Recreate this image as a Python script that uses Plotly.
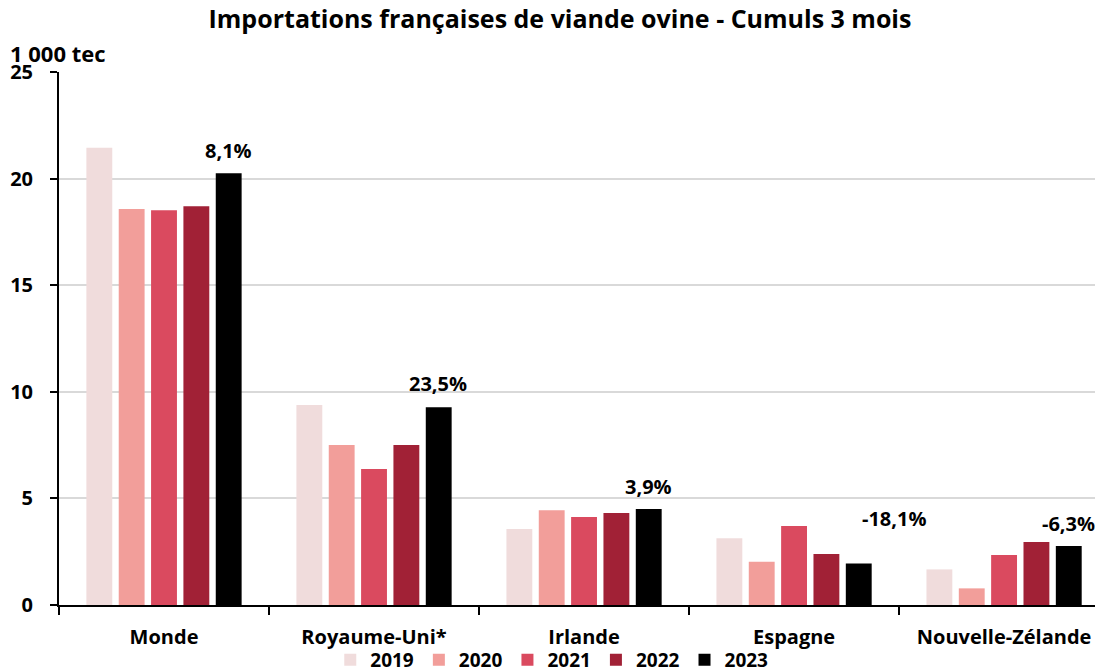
import plotly.graph_objects as go

# data (1 000 tec)
pays = ["Monde", "Royaume-Uni*", "Irlande", "Espagne", "Nouvelle-Zélande"]
annees = ["2019", "2020", "2021", "2022", "2023"]
v2019 = [21.45, 9.38, 3.56, 3.13, 1.67]
v2020 = [18.57, 7.50, 4.45, 2.03, 0.78]
v2021 = [18.52, 6.38, 4.13, 3.70, 2.34]
v2022 = [18.70, 7.50, 4.31, 2.39, 2.95]
v2023 = [20.25, 9.28, 4.50, 1.95, 2.77]
evol = ["8,1%", "23,5%", "3,9%", "-18,1%", "-6,3%"]
evol_y = [21.33, 10.41, 5.58, 4.08, 3.84]

couleurs = ["#f0dcdc", "#f29e9a", "#da4a5f", "#a12136", "#000000"]
series = [v2019, v2020, v2021, v2022, v2023]

police = "Open Sans"
# the page adds an 8px body margin, so the figure is laid out 8px up/left
dec = 8

fig = go.Figure()
for nom, vals, col in zip(annees, series, couleurs):
    fig.add_trace(go.Bar(x=pays, y=vals, name=nom, marker_color=col,
                         marker_line_width=0))

# evolution labels above the 2023 bars (Espagne one sits further right)
for i, (txt, yy) in enumerate(zip(evol, evol_y)):
    dx = 100 if pays[i] == "Espagne" else 64
    fig.add_annotation(x=i, y=yy, text=txt, showarrow=False, xshift=dx,
                       yanchor="middle",
                       font=dict(family=police, size=20, color="black", weight="bold"))

fig.add_annotation(x=0, y=1.0, xref="paper", yref="paper", xshift=-51,
                   yshift=19, text="1 000 tec", showarrow=False,
                   xanchor="left", yanchor="middle",
                   font=dict(family=police, size=22, color="black", weight="bold"))

fig.update_layout(
    width=1103, height=668,
    margin=dict(l=59 - dec, r=dec, t=72 - dec, b=63 + dec, autoexpand=False),
    paper_bgcolor="white", plot_bgcolor="white",
    title=dict(text="Importations françaises de viande ovine - Cumuls 3 mois",
               x=(560 - dec) / 1103, xanchor="center", xref="container",
               y=1 - (19 - dec) / 668, yanchor="middle", yref="container",
               automargin=False,
               font=dict(family=police, size=25, color="black", weight="bold")),
    barmode="group", bargap=0.23, bargroupgap=0.2,
    font=dict(family=police, size=18, color="black"),
    showlegend=True,
    legend=dict(orientation="h", x=0.472, xanchor="center", y=-0.103, yanchor="middle",
                bgcolor="rgba(0,0,0,0)",
                font=dict(family=police, size=19, color="black", weight="bold"),
                itemwidth=30, tracegroupgap=0),
)
fig.update_xaxes(range=[-0.5, 4.471], showline=True, linecolor="black", linewidth=2,
                 ticks="outside", tickson="boundaries", ticklen=8, tickcolor="black",
                 tickwidth=2, showgrid=False, automargin=False, ticklabelstandoff=13,
                 tickfont=dict(family=police, size=20, color="black", weight="bold"))
fig.update_yaxes(range=[0, 25], dtick=5, showline=True, linecolor="black", linewidth=2,
                 ticks="outside", ticklen=7, tickcolor="black", tickwidth=2,
                 showgrid=True, gridcolor="#d9d9d9", gridwidth=2, zeroline=False,
                 ticklabelstandoff=13, automargin=False,
                 tickfont=dict(family=police, size=20, color="black", weight="bold"))

fig.write_html("out.html")
